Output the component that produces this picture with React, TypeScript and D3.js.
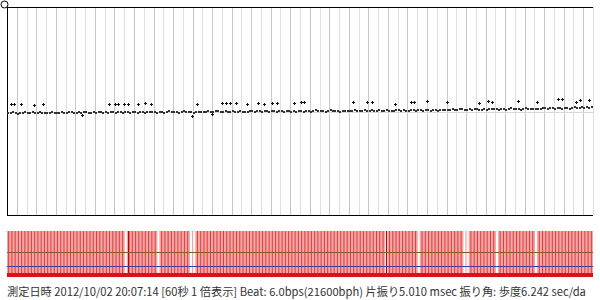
import React from "react";
import * as d3 from "d3";

// ---- data ----
const seconds = 60;
// main rate trace: 4 samples per second (units: deviation, +up)
const traceValues: number[] = [
  -0.7, -1.4, -0.3, -0.8, -1.6, -0.6, -1.2, -0.2, -1, -0.7, -0.3, -1.4, -0.8, -0.1, -1.2, -0.6, -1.3, -0.7, -0.2, -0.9,
  -0.6, -1.3, -0.1, -0.7, -1.4, -0.5, 0, -1, -0.6, -0.2, -1.2, -0.5, 0, -0.9, -0.6, -0.1, -1.1, -0.5, -0.2, -0.8,
  -0.3, -0.9, 0.2, -0.4, -1, -0.1, 0.3, -0.7, -0.3, 0.1, -0.9, -0.2, 0.4, -0.6, -0.3, 0.2, -0.8, -0.2, 0.1, -0.5,
  0, -0.6, 0.5, -0.1, -0.7, 0.3, 0.6, -0.4, 0, 0.5, -0.6, 0.2, 0.6, -0.3, 0, 0.4, -0.6, 0.2, -0.3, 0.4,
  0.3, -0.2, 0.8, 0.2, -0.4, 0.6, 0.9, 0, 0.3, 0.8, -0.2, 0.5, 0.9, 0.1, 0.3, 0.7, -0.2, 0.5, 0.1, 0.7,
  0.7, 0.2, 1.2, 0.6, 0.1, 1, 1.3, 0.4, 0.7, 1.2, 0.2, 0.9, 1.3, 0.5, 0.7, 1.1, 0.2, 0.9, 0.5, 1.1,
  1, 0.5, 1.5, 0.9, 0.4, 1.3, 1.6, 0.7, 1, 1.5, 0.5, 1.2, 1.6, 0.8, 1, 1.4, 0.5, 1.2, 0.8, 1.4,
  1.2, 0.7, 1.7, 1.1, 0.6, 1.5, 1.8, 0.9, 1.2, 1.7, 0.7, 1.4, 1.8, 1, 1.2, 1.6, 0.7, 1.4, 1, 1.6,
  1.6, 1.1, 2.1, 1.5, 1, 1.9, 2.2, 1.3, 1.6, 2.1, 1.1, 1.8, 2.2, 1.4, 1.6, 2, 1.2, 2, 2, 2.4,
  2.4, 1.9, 2.9, 2.3, 1.8, 2.7, 3, 2.1, 2.4, 2.9, 1.9, 2.6, 3, 2.2, 2.4, 2.8, 2, 2.6, 2.7, 3,
  3, 2.5, 3.5, 2.9, 2.4, 3.3, 3.6, 2.7, 3, 3.5, 2.5, 3.2, 3.6, 2.8, 3, 3.4, 2.6, 3.4, 3.4, 3.8,
  3.8, 3.3, 4.3, 3.7, 3.2, 4.1, 4.4, 3.5, 3.8, 4.4, 3.5, 4.2, 4.6, 3.9, 4.2, 4.6, 3.9, 4.7, 4.3, 4.8,
];
// outlier beats (time in s, deviation)
const outlierTimes: number[] = [
  0.41, 0.72, 1.43, 2.76, 3.69, 7.68, 10.44, 11.06, 11.37, 11.98, 12.39, 13.42, 14.13, 14.75, 18.94, 19.45,
  20.99, 22.01, 22.42, 22.83, 23.45, 24.57, 25.7, 26.31, 27.13, 27.65, 29.39, 30.1, 30.41, 35.43, 36.86,
  37.37, 39.73, 41.37, 41.67, 43.0, 45.05, 48.33, 49.25, 49.66, 52.32, 54.27, 56.42, 56.83, 58.26, 58.67, 59.59,
];
const outlierValues: number[] = [
  8, 8, 8, 7, 8, -3, 8, 8.5, 8.5, 8, 8, 8, 9.5, 8, -4, 8,
  -2, 9, 9, 9, 9, 8, 9.5, 8, 9.5, 9.5, 9.5, 10, 10, 10, 10.5,
  10, 8, 10.5, 10.5, 11, 10.5, 9, 11, 10, 11, 10, 12.5, 12.5, 10, 12, 12,
];
// beat marks in the lower strip: 3 per second; gaps (missing marks) at these seconds
const gapTimes: number[] = [12.3, 15.6, 19.0, 38.9, 42.2, 47.0, 50.2, 54.3];
const strongMarkTimes: number[] = [12.4, 38.8];
const titleText =
  "測定日時 2012/10/02 20:07:14 [60秒 1 倍表示] Beat: 6.0bps(21600bph) 片振り5.010 msec 振り角: 歩度6.242 sec/da";

export default function App() {
  const left = 7, right = 593, top = 7, bottom = 215;
  const x = d3.scaleLinear().domain([0, seconds]).range([left, right]);
  const y = d3.scaleLinear().domain([-103, 105]).range([bottom, top]);
  const stripTop = 231, stripBottom = 277;

  const traceStep = seconds / traceValues.length;
  const gridTicks = d3.range(1, seconds + 1);
  const marks = d3.range(0, seconds * 3).map((i) => (i + 0.5) / 3);
  const isGap = (t: number) => gapTimes.some((g) => Math.abs(g - t) < 0.17);

  return (
    <svg width={600} height={300} style={{ position: "absolute", left: 0, top: 0, background: "#fff" }}>
      {/* grid */}
      {gridTicks.map((s, i) => (
        <line key={"g" + s} x1={Math.round(x(s)) + 0.5} x2={Math.round(x(s)) + 0.5} y1={top} y2={bottom}
          stroke={i % 2 === 0 ? "#c8c8c8" : "#e0e0e0"} strokeWidth={1} />
      ))}
      <line x1={left} x2={right} y1={y(0) + 0.5} y2={y(0) + 0.5} stroke="#d8d8d8" />
      {/* frame */}
      <line x1={left} x2={right} y1={top + 0.5} y2={top + 0.5} stroke="#000" />
      <line x1={left} x2={right} y1={bottom + 0.5} y2={bottom + 0.5} stroke="#000" />
      <line x1={left + 0.5} x2={left + 0.5} y1={top} y2={bottom + 1} stroke="#000" />
      <circle cx={4.5} cy={4.5} r={3.5} fill="#fff" stroke="#000" />
      {/* trace */}
      {traceValues.map((v, i) => (
        <rect key={"d" + i} x={Math.round(x(i * traceStep + traceStep / 2)) - 1} y={Math.round(y(v)) - 1}
          width={2} height={2} fill="#333" />
      ))}
      {outlierTimes.map((t, i) => {
        const cx = Math.round(x(t)), cy = Math.round(y(outlierValues[i]));
        return (
          <g key={"o" + i} fill="#111">
            <rect x={cx - 1} y={cy} width={3} height={1} />
            <rect x={cx} y={cy - 1} width={1} height={3} />
          </g>
        );
      })}
      {/* lower beat strip */}
      <rect x={left} y={stripTop} width={right - left} height={stripBottom - stripTop} fill="#f2a6a6" />
      {marks.map((t, i) =>
        isGap(t) ? (
          <rect key={"m" + i} x={x(t) - 1} y={stripTop} width={2} height={stripBottom - stripTop - 4} fill="#fff" />
        ) : (
          <line key={"m" + i} x1={x(t)} x2={x(t)} y1={stripTop} y2={stripBottom} stroke="#e23a3a" strokeWidth={1} />
        )
      )}
      {strongMarkTimes.map((t, i) => (
        <line key={"s" + i} x1={Math.round(x(t)) + 0.5} x2={Math.round(x(t)) + 0.5} y1={stripTop} y2={stripBottom}
          stroke="#c00000" strokeWidth={1} />
      ))}
      <line x1={left} x2={right} y1={252.5} y2={252.5} stroke="#8a5a2a" />
      <line x1={left} x2={right} y1={266.5} y2={266.5} stroke="#4a3a9a" />
      <rect x={left} y={273} width={right - left} height={4} fill="#e01010" />
      {/* caption */}
      <text x={7} y={296} fontFamily="'Noto Sans CJK JP', sans-serif" fontSize={11.2} fill="#333">
        {titleText}
      </text>
    </svg>
  );
}
